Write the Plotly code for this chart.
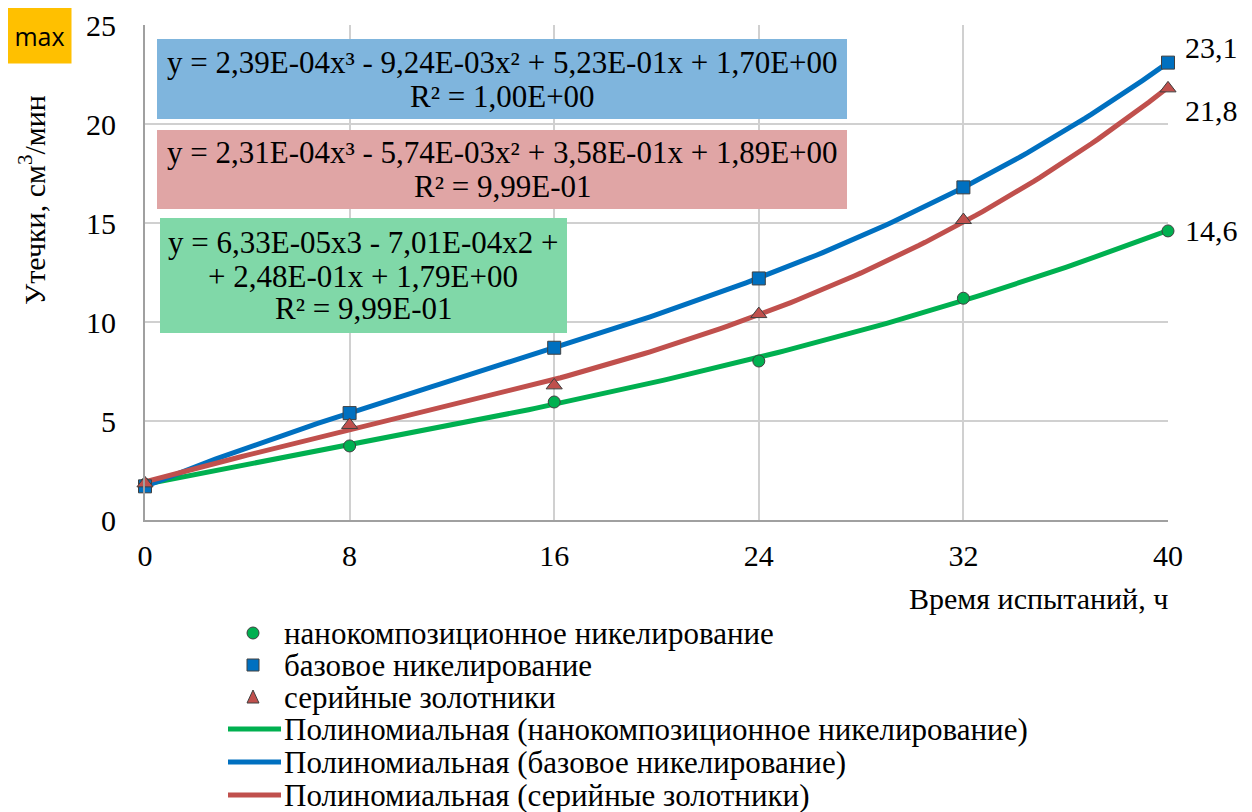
import numpy as np
import plotly.graph_objects as go

hours = [0, 8, 16, 24, 32, 40]
nano = [1.8, 3.74, 5.96, 8.03, 11.2, 14.6]
base = [1.7, 5.4, 8.7, 12.2, 16.8, 23.1]
serial = [1.85, 4.8, 6.8, 10.4, 15.15, 21.8]

names = ["нанокомпозиционное никелирование", "базовое никелирование", "серийные золотники"]
colors = ["#00B050", "#0070C0", "#C0504D"]
symbols = ["circle", "square", "triangle-up"]
end_labels = ["14,6", "23,1", "21,8"]
label_shift = [0, 15, -22]

eq_lines = [
    ["y = 2,39E-04x³ - 9,24E-03x² + 5,23E-01x + 1,70E+00", "R² = 1,00E+00"],
    ["y = 2,31E-04x³ - 5,74E-03x² + 3,58E-01x + 1,89E+00", "R² = 9,99E-01"],
    ["y = 6,33E-05x3 - 7,01E-04x2 +", "+ 2,48E-01x + 1,79E+00", "R² = 9,99E-01"],
]

FONT = "Liberation Serif"
OFF = 8  # page body margin
L, R, T, B = 145, 1168, 25, 520  # plot area in page pixels
W, H = R - L, B - T
FW, FH = 1252 - OFF, 812 - OFF


def PX(p):
    return (p - L) / W


def PY(p):
    return (B - p) / H


series = [nano, base, serial]
msize = [12, 13, 14]

fig = go.Figure()
xs = np.linspace(0, 40, 161)
for s, n, c in zip(series, names, colors):
    coef = np.polyfit(hours, s, 3)
    fig.add_trace(go.Scatter(
        x=xs, y=np.polyval(coef, xs), mode="lines", name="Полиномиальная (" + n + ")",
        line=dict(color=c, width=5), showlegend=False, cliponaxis=False,
    ))
for s, n, c, sym, ms in zip(series, names, colors, symbols, msize):
    fig.add_trace(go.Scatter(
        x=hours, y=s, mode="markers", name=n, showlegend=False, cliponaxis=False,
        marker=dict(symbol=sym, size=ms, color=c, line=dict(color="#404040", width=1)),
    ))

for s, lab, sh in zip(series, end_labels, label_shift):
    fig.add_annotation(x=hours[-1], y=s[-1], text=lab, showarrow=False, xanchor="left",
                       xshift=15, yshift=sh, font=dict(family=FONT, size=30, color="black"))

# equation boxes
boxes = [(157, 847, 39, 119, "#7FB5DD"), (157, 847, 130, 209, "#E0A5A5"), (160, 567, 218, 333, "#80D8A8")]
for x0, x1, y0, y1, fc in boxes:
    fig.add_shape(type="rect", xref="paper", yref="paper", x0=PX(x0), x1=PX(x1),
                  y0=PY(y1), y1=PY(y0), fillcolor=fc, line=dict(width=0), layer="above")
line_pos = [(502, [62, 96]), (502, [152, 186]), (363, [243, 276, 309])]
for lines, (cx, ys) in zip(eq_lines, line_pos):
    for txt, cy in zip(lines, ys):
        fig.add_annotation(x=PX(cx), y=PY(cy), xref="paper", yref="paper", text=txt,
                           showarrow=False, xanchor="center", yanchor="middle",
                           font=dict(family=FONT, size=31, color="black"))

# max badge
fig.add_annotation(x=PX(39.5), y=PY(35.5), xref="paper", yref="paper", text="max", showarrow=False,
                   xanchor="center", yanchor="middle",
                   bgcolor="#FFC000", width=63, height=55, borderpad=0,
                   font=dict(family="Open Sans", size=25, color="black"))

# axis titles
fig.add_annotation(x=PX(32), y=PY(200), xref="paper", yref="paper", text="Утечки, см<sup>3</sup>/мин",
                   textangle=-90, showarrow=False, xanchor="center", yanchor="middle",
                   font=dict(family=FONT, size=30, color="black"))
fig.add_annotation(x=PX(1170), y=PY(598), xref="paper", yref="paper", text="Время испытаний, ч",
                   showarrow=False, xanchor="right", yanchor="middle",
                   font=dict(family=FONT, size=30, color="black"))

# manual legend
leg_y = [633, 665, 697, 729, 762, 795]
leg_text = names + ["Полиномиальная (" + n + ")" for n in names]
for txt, yy in zip(leg_text, leg_y):
    fig.add_annotation(x=PX(282), y=PY(yy), xref="paper", yref="paper", text=txt, showarrow=False,
                       xanchor="left", yanchor="middle", font=dict(family=FONT, size=31, color="black"))
mx, r = 253, 6
fig.add_shape(type="circle", xref="paper", yref="paper", x0=PX(mx - r), x1=PX(mx + r),
              y0=PY(leg_y[0] + r), y1=PY(leg_y[0] - r), fillcolor=colors[0],
              line=dict(color="#404040", width=1))
fig.add_shape(type="rect", xref="paper", yref="paper", x0=PX(mx - r), x1=PX(mx + r),
              y0=PY(leg_y[1] + r), y1=PY(leg_y[1] - r), fillcolor=colors[1],
              line=dict(color="#404040", width=1))
ty = leg_y[2]
fig.add_shape(type="path", xref="paper", yref="paper",
              path=f"M {PX(mx - 6)},{PY(ty + 6)} L {PX(mx + 6)},{PY(ty + 6)} L {PX(mx)},{PY(ty - 7)} Z",
              fillcolor=colors[2], line=dict(color="#404040", width=1))
for c, yy in zip(colors, leg_y[3:]):
    fig.add_shape(type="line", xref="paper", yref="paper", x0=PX(228), x1=PX(281),
                  y0=PY(yy), y1=PY(yy), line=dict(color=c, width=5))

fig.update_xaxes(range=[0, 40], tickvals=[0, 8, 16, 24, 32, 40], showgrid=True, gridcolor="#D0D0D0",
                 gridwidth=1.5, showline=True, linecolor="#A0A0A0", linewidth=2, zeroline=False,
                 ticks="", tickfont=dict(family=FONT, size=30, color="black"), ticklabelstandoff=8)
fig.update_yaxes(range=[0, 25], tickvals=[0, 5, 10, 15, 20, 25], showgrid=True, gridcolor="#D0D0D0",
                 gridwidth=1.5, showline=True, linecolor="#A0A0A0", linewidth=2, zeroline=False,
                 ticks="", tickfont=dict(family=FONT, size=30, color="black"), ticklabelstandoff=21)

fig.update_layout(
    width=FW, height=FH, plot_bgcolor="white", paper_bgcolor="white",
    margin=dict(l=L - OFF, r=FW - (R - OFF), t=T - OFF, b=FH - (B - OFF), autoexpand=False),
    showlegend=False,
)
fig.write_html("out.html")
